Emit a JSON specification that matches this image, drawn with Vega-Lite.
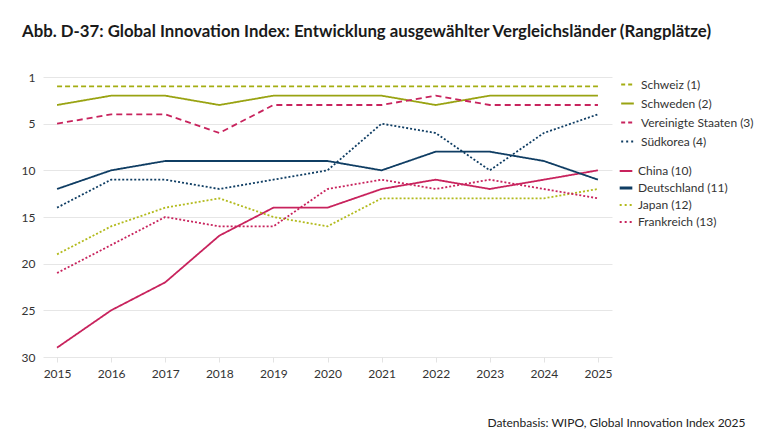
{
  "$schema": "https://vega.github.io/schema/vega-lite/v6.json",
  "autosize": {"type": "none"},
  "width": 569,
  "height": 280,
  "padding": {"left": 43, "top": 77, "right": 154, "bottom": 90},
  "background": "white",
  "title": {
    "text": "Abb. D-37: Global Innovation Index: Entwicklung ausgewählter Vergleichsländer (Rangplätze)",
    "anchor": "start",
    "frame": "group",
    "dx": -21,
    "offset": 30,
    "font": "Lato",
    "fontSize": 16.8,
    "fontWeight": "bold",
    "color": "#1a1a1a"
  },
  "config": {
    "view": {"stroke": null},
    "font": "Lato",
    "axis": {"labelFont": "Lato", "labelFontSize": 12, "labelColor": "#333333", "titleFont": "Lato"},
    "legend": {"labelFont": "Lato", "labelFontSize": 12, "labelColor": "#333333"}
  },
  "datasets": {
    "gruppeA": [
      {"Jahr": 2015, "Land": "Schweiz (1)", "Rang": 1},
      {"Jahr": 2016, "Land": "Schweiz (1)", "Rang": 1},
      {"Jahr": 2017, "Land": "Schweiz (1)", "Rang": 1},
      {"Jahr": 2018, "Land": "Schweiz (1)", "Rang": 1},
      {"Jahr": 2019, "Land": "Schweiz (1)", "Rang": 1},
      {"Jahr": 2020, "Land": "Schweiz (1)", "Rang": 1},
      {"Jahr": 2021, "Land": "Schweiz (1)", "Rang": 1},
      {"Jahr": 2022, "Land": "Schweiz (1)", "Rang": 1},
      {"Jahr": 2023, "Land": "Schweiz (1)", "Rang": 1},
      {"Jahr": 2024, "Land": "Schweiz (1)", "Rang": 1},
      {"Jahr": 2025, "Land": "Schweiz (1)", "Rang": 1},
      {"Jahr": 2015, "Land": "Schweden (2)", "Rang": 3},
      {"Jahr": 2016, "Land": "Schweden (2)", "Rang": 2},
      {"Jahr": 2017, "Land": "Schweden (2)", "Rang": 2},
      {"Jahr": 2018, "Land": "Schweden (2)", "Rang": 3},
      {"Jahr": 2019, "Land": "Schweden (2)", "Rang": 2},
      {"Jahr": 2020, "Land": "Schweden (2)", "Rang": 2},
      {"Jahr": 2021, "Land": "Schweden (2)", "Rang": 2},
      {"Jahr": 2022, "Land": "Schweden (2)", "Rang": 3},
      {"Jahr": 2023, "Land": "Schweden (2)", "Rang": 2},
      {"Jahr": 2024, "Land": "Schweden (2)", "Rang": 2},
      {"Jahr": 2025, "Land": "Schweden (2)", "Rang": 2},
      {"Jahr": 2015, "Land": "Vereinigte Staaten (3)", "Rang": 5},
      {"Jahr": 2016, "Land": "Vereinigte Staaten (3)", "Rang": 4},
      {"Jahr": 2017, "Land": "Vereinigte Staaten (3)", "Rang": 4},
      {"Jahr": 2018, "Land": "Vereinigte Staaten (3)", "Rang": 6},
      {"Jahr": 2019, "Land": "Vereinigte Staaten (3)", "Rang": 3},
      {"Jahr": 2020, "Land": "Vereinigte Staaten (3)", "Rang": 3},
      {"Jahr": 2021, "Land": "Vereinigte Staaten (3)", "Rang": 3},
      {"Jahr": 2022, "Land": "Vereinigte Staaten (3)", "Rang": 2},
      {"Jahr": 2023, "Land": "Vereinigte Staaten (3)", "Rang": 3},
      {"Jahr": 2024, "Land": "Vereinigte Staaten (3)", "Rang": 3},
      {"Jahr": 2025, "Land": "Vereinigte Staaten (3)", "Rang": 3},
      {"Jahr": 2015, "Land": "Südkorea (4)", "Rang": 14},
      {"Jahr": 2016, "Land": "Südkorea (4)", "Rang": 11},
      {"Jahr": 2017, "Land": "Südkorea (4)", "Rang": 11},
      {"Jahr": 2018, "Land": "Südkorea (4)", "Rang": 12},
      {"Jahr": 2019, "Land": "Südkorea (4)", "Rang": 11},
      {"Jahr": 2020, "Land": "Südkorea (4)", "Rang": 10},
      {"Jahr": 2021, "Land": "Südkorea (4)", "Rang": 5},
      {"Jahr": 2022, "Land": "Südkorea (4)", "Rang": 6},
      {"Jahr": 2023, "Land": "Südkorea (4)", "Rang": 10},
      {"Jahr": 2024, "Land": "Südkorea (4)", "Rang": 6},
      {"Jahr": 2025, "Land": "Südkorea (4)", "Rang": 4}
    ],
    "gruppeB": [
      {"Jahr": 2015, "Land": "China (10)", "Rang": 29},
      {"Jahr": 2016, "Land": "China (10)", "Rang": 25},
      {"Jahr": 2017, "Land": "China (10)", "Rang": 22},
      {"Jahr": 2018, "Land": "China (10)", "Rang": 17},
      {"Jahr": 2019, "Land": "China (10)", "Rang": 14},
      {"Jahr": 2020, "Land": "China (10)", "Rang": 14},
      {"Jahr": 2021, "Land": "China (10)", "Rang": 12},
      {"Jahr": 2022, "Land": "China (10)", "Rang": 11},
      {"Jahr": 2023, "Land": "China (10)", "Rang": 12},
      {"Jahr": 2024, "Land": "China (10)", "Rang": 11},
      {"Jahr": 2025, "Land": "China (10)", "Rang": 10},
      {"Jahr": 2015, "Land": "Deutschland (11)", "Rang": 12},
      {"Jahr": 2016, "Land": "Deutschland (11)", "Rang": 10},
      {"Jahr": 2017, "Land": "Deutschland (11)", "Rang": 9},
      {"Jahr": 2018, "Land": "Deutschland (11)", "Rang": 9},
      {"Jahr": 2019, "Land": "Deutschland (11)", "Rang": 9},
      {"Jahr": 2020, "Land": "Deutschland (11)", "Rang": 9},
      {"Jahr": 2021, "Land": "Deutschland (11)", "Rang": 10},
      {"Jahr": 2022, "Land": "Deutschland (11)", "Rang": 8},
      {"Jahr": 2023, "Land": "Deutschland (11)", "Rang": 8},
      {"Jahr": 2024, "Land": "Deutschland (11)", "Rang": 9},
      {"Jahr": 2025, "Land": "Deutschland (11)", "Rang": 11},
      {"Jahr": 2015, "Land": "Japan (12)", "Rang": 19},
      {"Jahr": 2016, "Land": "Japan (12)", "Rang": 16},
      {"Jahr": 2017, "Land": "Japan (12)", "Rang": 14},
      {"Jahr": 2018, "Land": "Japan (12)", "Rang": 13},
      {"Jahr": 2019, "Land": "Japan (12)", "Rang": 15},
      {"Jahr": 2020, "Land": "Japan (12)", "Rang": 16},
      {"Jahr": 2021, "Land": "Japan (12)", "Rang": 13},
      {"Jahr": 2022, "Land": "Japan (12)", "Rang": 13},
      {"Jahr": 2023, "Land": "Japan (12)", "Rang": 13},
      {"Jahr": 2024, "Land": "Japan (12)", "Rang": 13},
      {"Jahr": 2025, "Land": "Japan (12)", "Rang": 12},
      {"Jahr": 2015, "Land": "Frankreich (13)", "Rang": 21},
      {"Jahr": 2016, "Land": "Frankreich (13)", "Rang": 18},
      {"Jahr": 2017, "Land": "Frankreich (13)", "Rang": 15},
      {"Jahr": 2018, "Land": "Frankreich (13)", "Rang": 16},
      {"Jahr": 2019, "Land": "Frankreich (13)", "Rang": 16},
      {"Jahr": 2020, "Land": "Frankreich (13)", "Rang": 12},
      {"Jahr": 2021, "Land": "Frankreich (13)", "Rang": 11},
      {"Jahr": 2022, "Land": "Frankreich (13)", "Rang": 12},
      {"Jahr": 2023, "Land": "Frankreich (13)", "Rang": 11},
      {"Jahr": 2024, "Land": "Frankreich (13)", "Rang": 12},
      {"Jahr": 2025, "Land": "Frankreich (13)", "Rang": 13}
    ]
  },
  "encoding": {
    "x": {
      "field": "Jahr",
      "type": "ordinal",
      "scale": {"type": "point", "padding": 0.26},
      "axis": {
        "title": "Datenbasis: WIPO, Global Innovation Index 2025",
        "titleFontSize": 12,
        "titleFontWeight": "normal",
        "titleColor": "#222222",
        "titleAnchor": "end",
        "titleAlign": "right",
        "titleBaseline": "alphabetic",
        "titleX": 702,
        "titleY": 69,
        "labelAngle": 0,
        "labelPadding": 6,
        "domain": false,
        "ticks": true,
        "tickColor": "#e3e3e3",
        "tickSize": 5,
        "grid": false
      }
    },
    "y": {
      "field": "Rang",
      "type": "quantitative",
      "scale": {"domain": [0, 30], "reverse": true, "zero": false, "nice": false},
      "axis": {
        "title": null,
        "values": [0, 5, 10, 15, 20, 25, 30],
        "labelExpr": "datum.value === 0 ? '1' : datum.label",
        "labelPadding": 8,
        "domain": false,
        "ticks": false,
        "grid": true,
        "gridColor": "#e6e6e6",
        "gridWidth": 1
      }
    },
    "strokeDash": {
      "field": "Land",
      "type": "nominal",
      "scale": {
        "domain": ["Schweiz (1)", "Schweden (2)", "Vereinigte Staaten (3)", "Südkorea (4)", "China (10)", "Deutschland (11)", "Japan (12)", "Frankreich (13)"],
        "range": [[5, 3], [1, 0], [6, 4], [2, 2], [1, 0], [1, 0], [2, 2], [2, 2]]
      },
      "legend": null
    },
    "strokeWidth": {
      "field": "Land",
      "type": "nominal",
      "scale": {
        "domain": ["Schweiz (1)", "Schweden (2)", "Vereinigte Staaten (3)", "Südkorea (4)", "China (10)", "Deutschland (11)", "Japan (12)", "Frankreich (13)"],
        "range": [1.8, 1.8, 1.8, 2.3, 1.6, 3.2, 2.3, 2.3]
      },
      "legend": null
    }
  },
  "layer": [
    {
      "data": {"name": "gruppeA"},
      "mark": {"type": "line"},
      "encoding": {
        "color": {
          "field": "Land",
          "type": "nominal",
          "sort": null,
          "scale": {
            "domain": ["Schweiz (1)", "Schweden (2)", "Vereinigte Staaten (3)", "Südkorea (4)"],
            "range": ["#a4ad12", "#99a312", "#c8235d", "#0f3d63"]
          },
          "legend": {
            "title": null,
            "orient": "right",
            "offset": 8,
            "padding": 0,
            "symbolType": "stroke",
            "symbolSize": 160,
            "symbolStrokeWidth": 2,
            "labelOffset": 6,
            "rowPadding": 5,
            "encode": {
              "symbols": {
                "update": {
                  "strokeDash": {"signal": "datum.value === 'Schweiz (1)' ? [4, 3] : datum.value === 'Vereinigte Staaten (3)' ? [4, 3] : datum.value === 'Südkorea (4)' ? [2, 3] : [1, 0]"}
                }
              }
            }
          }
        }
      }
    },
    {
      "data": {"name": "gruppeB"},
      "mark": {"type": "line"},
      "encoding": {
        "stroke": {
          "field": "Land",
          "type": "nominal",
          "sort": null,
          "scale": {
            "domain": ["China (10)", "Deutschland (11)", "Japan (12)", "Frankreich (13)"],
            "range": ["#c8235d", "#0f3d63", "#b2ba1c", "#c8235d"]
          },
          "legend": {
            "title": " ",
            "titleFontSize": 1,
            "titlePadding": 8,
            "orient": "right",
            "offset": 8,
            "padding": 0,
            "symbolType": "stroke",
            "symbolSize": 160,
            "symbolStrokeWidth": 2,
            "labelOffset": 6,
            "rowPadding": 5,
            "encode": {
              "symbols": {
                "update": {
                  "strokeDash": {"signal": "datum.value === 'Japan (12)' || datum.value === 'Frankreich (13)' ? [2, 3] : [1, 0]"},
                  "strokeWidth": {"signal": "datum.value === 'Deutschland (11)' ? 3 : 2"}
                }
              }
            }
          }
        }
      }
    }
  ]
}
